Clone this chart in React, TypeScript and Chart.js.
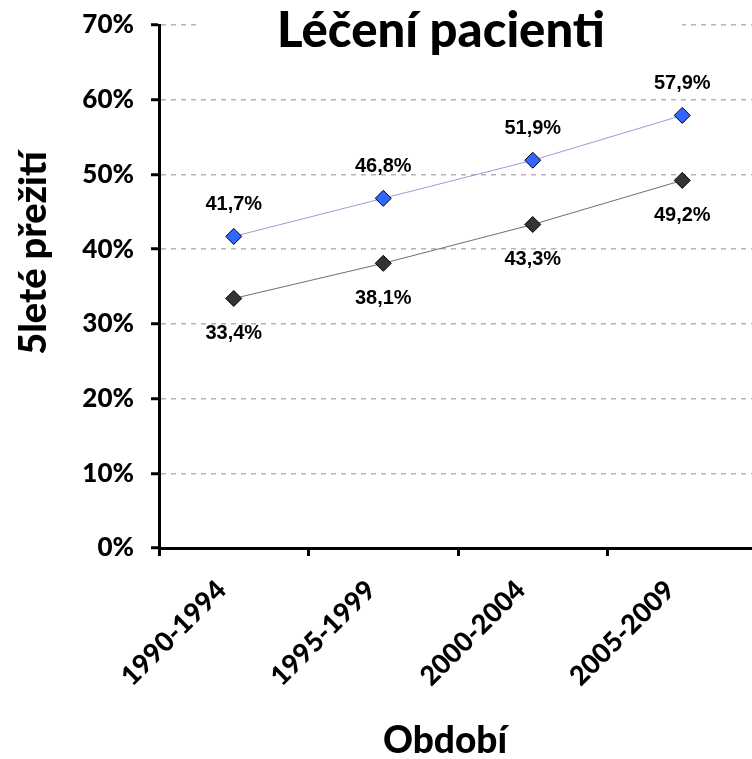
import React, { useEffect, useRef } from "react";
import { Chart, registerables } from "chart.js";

Chart.register(...registerables);

const chartTitle = "Léčení pacienti";
const xAxisTitle = "Období";
const yAxisTitle = "5leté přežití";
const categories = ["1990-1994", "1995-1999", "2000-2004", "2005-2009"];
const upperSeries = [41.7, 46.8, 51.9, 57.9];
const lowerSeries = [33.4, 38.1, 43.3, 49.2];
const yMin = 0;
const yMax = 70;
const yStep = 10;

const AXIS_FONT = "Lato";
const AXIS_WEIGHT = "900";
const LABEL_FONT = "'Liberation Sans', Arial, sans-serif";

const fmt = (v: number) => v.toFixed(1).replace(".", ",") + "%";

const overlayPlugin = {
  id: "overlay",
  afterDraw(chart: any) {
    const ctx = chart.ctx as CanvasRenderingContext2D;
    const area = chart.chartArea;
    ctx.save();
    // data labels
    ctx.font = `bold 20px ${LABEL_FONT}`;
    ctx.fillStyle = "#000";
    ctx.textAlign = "center";
    ctx.textBaseline = "middle";
    chart.data.datasets.forEach((ds: any, di: number) => {
      const meta = chart.getDatasetMeta(di);
      const above = di === 0;
      meta.data.forEach((pt: any, i: number) => {
        const y = above ? pt.y - 32 : pt.y + 35;
        ctx.fillText(fmt(ds.data[i]), pt.x, y);
      });
    });
    // title with white background
    ctx.font = `${AXIS_WEIGHT} 49px ${AXIS_FONT}`;
    const cx = (area.left + area.right) / 2 - 17;
    ctx.fillStyle = "#fff";
    ctx.fillRect(200, 0, 482, 62);
    ctx.fillStyle = "#000";
    ctx.textBaseline = "alphabetic";
    ctx.fillText(chartTitle, cx, 47);
    // x axis title
    ctx.font = `${AXIS_WEIGHT} 37px ${AXIS_FONT}`;
    ctx.fillText(xAxisTitle, cx + 4, 753);
    // y axis title
    ctx.save();
    ctx.translate(46, 253);
    ctx.rotate(-Math.PI / 2);
    ctx.font = `${AXIS_WEIGHT} 38px ${AXIS_FONT}`;
    ctx.fillText(yAxisTitle, 0, 0);
    ctx.restore();
    ctx.restore();
  },
};

export default function App() {
  const ref = useRef<HTMLCanvasElement>(null);
  useEffect(() => {
    document.body.style.overflow = "hidden";
    const canvas = ref.current!;
    const chart = new Chart(canvas, {
      type: "line",
      data: {
        labels: categories,
        datasets: [
          {
            label: "A",
            data: upperSeries,
            borderColor: "#9a9ad8",
            borderWidth: 1,
            backgroundColor: "#3366ff",
            pointBackgroundColor: "#3366ff",
            pointBorderColor: "#000",
            pointBorderWidth: 1,
            pointStyle: "rectRot",
            pointRadius: 8,
            tension: 0,
          },
          {
            label: "B",
            data: lowerSeries,
            borderColor: "#6e6e6e",
            borderWidth: 1,
            backgroundColor: "#333333",
            pointBackgroundColor: "#333333",
            pointBorderColor: "#000",
            pointBorderWidth: 1,
            pointStyle: "rectRot",
            pointRadius: 8,
            tension: 0,
          },
        ],
      },
      options: {
        animation: false,
        responsive: false,
        layout: { padding: { top: 25, right: 13, left: 0, bottom: 0 } },
        plugins: {
          legend: { display: false },
          tooltip: { enabled: false },
          title: { display: false },
        },
        scales: {
          x: {
            type: "category",
            offset: true,
            afterFit: (s: any) => {
              s.height = 211;
            },
            grid: {
              display: true,
              offset: true,
              drawOnChartArea: false,
              drawTicks: true,
              tickLength: 8,
              tickWidth: 3,
              tickColor: "#000",
              color: "#000",
            },
            border: { display: true, color: "#000", width: 3 },
            ticks: {
              color: "#000",
              font: { family: AXIS_FONT, weight: AXIS_WEIGHT, size: 27 },
              maxRotation: 45,
              minRotation: 45,
              padding: 18,
              labelOffset: -12,
            },
          },
          y: {
            min: yMin,
            max: yMax,
            afterFit: (s: any) => {
              s.width = 159;
              s.paddingTop = 0;
            },
            grid: {
              color: "#b4b4b4",
              lineWidth: 1.5,
              drawTicks: true,
              tickLength: 8,
              tickWidth: 3,
              tickColor: "#000",
              tickBorderDash: [],
            },
            border: { display: true, color: "#000", width: 3, dash: [5, 5] },
            ticks: {
              stepSize: yStep,
              color: "#000",
              font: { family: AXIS_FONT, weight: AXIS_WEIGHT, size: 26 },
              padding: 17,
              callback: (v: any) => v + "%",
            },
          },
        },
      },
      plugins: [overlayPlugin],
    } as any);
    return () => chart.destroy();
  }, []);
  return (
    <div style={{ position: "fixed", left: 0, top: 0, width: 770, height: 759 }}>
      <canvas ref={ref} width={770} height={759} />
    </div>
  );
}
